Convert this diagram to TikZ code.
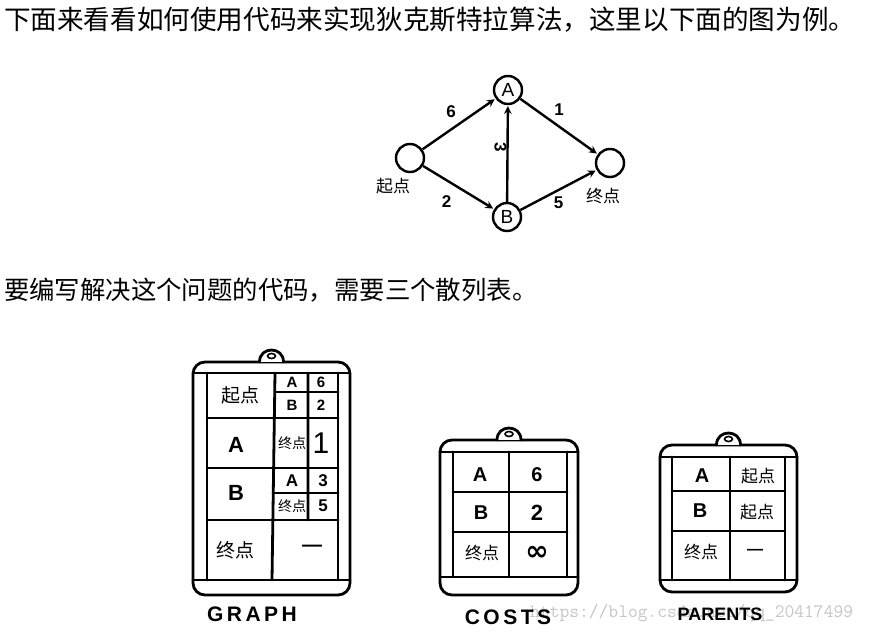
\documentclass[tikz,border=0pt]{standalone}
\usepackage{fontspec}
\usetikzlibrary{positioning}
\setsansfont{Liberation Sans}
\newfontfamily\cjk{Noto Sans CJK SC}
\newfontfamily\symb{DejaVu Sans}
\tikzset{
	frameline/.style={line width=2.8pt,line cap=round,line join=round},
	vertex/.style={circle,draw,line width=2.4pt,minimum size=28pt,inner sep=0pt,font=\sffamily\fontsize{19}{20}\selectfont},
	edge/.style={->,line width=2.4pt,shorten >=1pt},
	hand/.style={font=\sffamily\bfseries\fontsize{#1}{#1}\selectfont,inner sep=0pt},
	hanzi/.style={font=\cjk\fontsize{#1}{#1}\selectfont,inner sep=0pt},
}
\begin{document}
\begin{tikzpicture}[>=stealth,x=1pt,y=-1pt]
	\useasboundingbox (0,0) rectangle (876,634);
	\fill[white] (0,0) rectangle (876,634);
	% Texte
	\node (line1) [anchor=west,inner sep=0pt,font=\cjk\fontsize{26.6}{30}\selectfont] at (4,20) {下面来看看如何使用代码来实现狄克斯特拉算法，这里以下面的图为例。};
	\node (line2) [anchor=west,inner sep=0pt,font=\cjk\fontsize{25.4}{30}\selectfont] at (4,290) {要编写解决这个问题的代码，需要三个散列表。};
	% Graph
	\node (start) [vertex] at (410,158) {};
	\node (A) [vertex] at (508,90) {A};
	\node (B) [vertex] at (507,217) {B};
	\node (finish) [vertex] at (610,163) {};
	\node (startlbl) [hanzi=17] at (393,186) {起点};
	\node (finishlbl) [hanzi=17] at (603,196) {终点};
	\draw[edge] (start) -- node (w6) [hand=17,above left=5pt and 2pt] {6} (A);
	\draw[edge] (start) -- node (w2) [hand=17,below left=7pt and 6pt] {2} (B);
	\draw[edge] (B) -- node (w3) [hand=17,rotate=-90,left=7pt] {3} (A);
	\draw[edge] (A) -- node (w1) [hand=17,above=10pt] {1} (finish);
	\draw[edge] (B) -- node (w5) [hand=17,below=6pt] {5} (finish);
	% Haenger
	\def\hanger#1#2#3#4{% links, oben, rechts, unten
		\draw[frameline,rounded corners=12pt] (#1,#2) rectangle (#3,#4);
		\draw[frameline,fill=white] ({(#1+#3)/2-12},#2) .. controls ({(#1+#3)/2-12},{#2-16}) and ({(#1+#3)/2+12},{#2-16}) .. ({(#1+#3)/2+12},#2);
		\draw[line width=1.6pt] ({(#1+#3)/2},{#2-6}) ellipse (4 and 2.5);
	}
	% GRAPH
	\hanger{193}{362}{350}{595}
	\draw[frameline] (193,373) -- (350,373) (193,580) -- (350,580);
	\draw[frameline] (207,373) -- (207,580) (338,373) -- (338,580);
	\draw[frameline] (275,373) -- (272,580) (308,373) -- (308,520);
	\draw[frameline] (207,418) -- (338,418) (207,468) -- (338,468) (207,520) -- (338,520);
	\draw[frameline] (275,392) -- (338,392) (273,493) -- (338,493);
	\node (g1) [hanzi=19] at (240,395) {起点};
	\node (g2) [hand=22] at (236,445) {A};
	\node (g3) [hand=22] at (236,493) {B};
	\node (g4) [hanzi=19] at (235,550) {终点};
	\node (g5) [hand=20] at (312,548) {---};
	\node (g11) [hand=15] at (292,382) {A};
	\node (g12) [hand=15] at (321,382) {6};
	\node (g13) [hand=15] at (292,405) {B};
	\node (g14) [hand=15] at (321,405) {2};
	\node (g21) [hanzi=14] at (292,443) {终点};
	\node (g22) [font=\sffamily\fontsize{30}{30}\selectfont,inner sep=0pt] at (321,443) {1};
	\node (g31) [hand=17] at (292,481) {A};
	\node (g32) [hand=17] at (323,481) {3};
	\node (g33) [hanzi=14] at (292,506) {终点};
	\node (g34) [hand=17] at (323,506) {5};
	\node (graphcap) [hand=21] at (252,614) {G\,R\,A\,P\,H};
	% COSTS
	\hanger{440}{440}{578}{595}
	\draw[frameline] (440,452) -- (578,452) (440,577) -- (578,577);
	\draw[frameline] (453,452) -- (453,577) (567,452) -- (567,577) (509,452) -- (509,577);
	\draw[frameline] (453,492) -- (567,492) (453,532) -- (567,532);
	\node (c1) [hand=20] at (480,475) {A};
	\node (c2) [hand=20] at (537,475) {6};
	\node (c3) [hand=20] at (481,513) {B};
	\node (c4) [hand=22] at (537,513) {2};
	\node (c5) [hanzi=17] at (482,553) {终点};
	\node (c6) [inner sep=0pt,font=\symb\bfseries\fontsize{28}{28}\selectfont] at (537,553) {∞};
	% Wasserzeichen
	\node (mark) [anchor=west,inner sep=0pt,text=gray!45,font=\ttfamily\fontsize{19}{20}\selectfont] at (530,613) {https://blog.csdn.net/qq\_20417499};
	\node (costcap) [hand=21] at (508,617) {C\,O\,S\,T\,S};
	% PARENTS
	\hanger{660}{445}{797}{592}
	\draw[frameline] (660,457) -- (797,457) (660,580) -- (797,580);
	\draw[frameline] (672,457) -- (672,580) (785,457) -- (785,580) (730,457) -- (730,580);
	\draw[frameline] (672,491) -- (785,491) (672,531) -- (785,531);
	\node (p1) [hand=20] at (702,476) {A};
	\node (p2) [hanzi=17] at (758,476) {起点};
	\node (p3) [hand=20] at (700,511) {B};
	\node (p4) [hanzi=17] at (757,512) {起点};
	\node (p5) [hanzi=17] at (701,552) {终点};
	\node (p6) [hand=16] at (755,552) {---};
	\node (parcap) [hand=18] at (720,614) {PARENTS};
\end{tikzpicture}
\end{document}
